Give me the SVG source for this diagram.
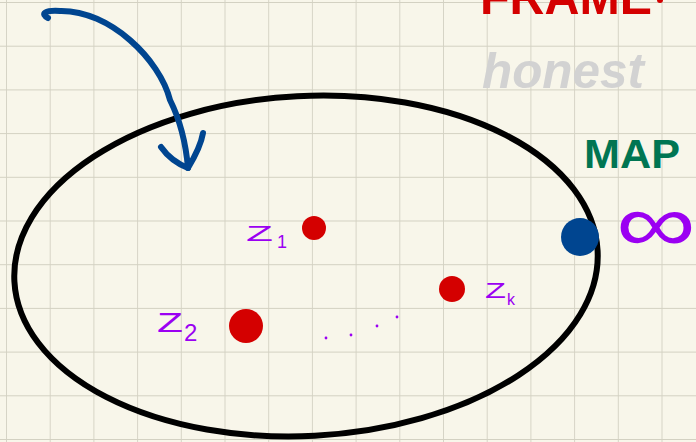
<svg xmlns="http://www.w3.org/2000/svg" width="696" height="442" viewBox="0 0 696 442">
<defs>
<pattern id="grid" x="6" y="2" width="43.7" height="43.7" patternUnits="userSpaceOnUse">
<path d="M0 0V43.7M0 0H43.7" fill="none" stroke="#d3d1c2" stroke-width="1.8"/>
</pattern>
<style>
.hand{font-family:"Liberation Sans","DejaVu Sans",sans-serif;}
.lbl{fill:#9b00f2;font-family:"Liberation Sans",sans-serif;}
.red{fill:#d40000;}
.dot{fill:#9b00f2;}
</style>
</defs>
<rect width="696" height="442" fill="#f8f6ea"/>
<rect width="696" height="442" fill="url(#grid)"/>
<g id="frame-label"><text x="480" y="14" class="hand" font-size="50" font-weight="bold" fill="#d40000" textLength="172" lengthAdjust="spacingAndGlyphs">FRAME</text><circle cx="660" cy="0" r="3" fill="#d40000"/></g>
<g id="honest-label"><text x="482" y="88" class="hand" font-size="50" font-style="italic" font-weight="bold" fill="#d2d2d2" textLength="162" lengthAdjust="spacingAndGlyphs">honest</text></g>
<g id="map-label"><text x="584" y="168" class="hand" font-size="40" font-weight="bold" fill="#007552" textLength="96" lengthAdjust="spacingAndGlyphs">MAP</text></g>
<g id="region"><ellipse cx="306" cy="266" rx="292" ry="170" transform="rotate(-3 306 266)" fill="none" stroke="#000" stroke-width="6"/></g>
<g id="connectors">
<path d="M48 18C40 14 45 10 60 11C110 10 160 60 170 100C180 120 186 145 188 168" fill="none" stroke="#004590" stroke-width="6" stroke-linecap="round"/>
<path d="M161 147C168 157 178 164 188 168C194 158 201 145 203 133" fill="none" stroke="#004590" stroke-width="6" stroke-linecap="round" stroke-linejoin="round"/>
</g>
<g id="infinity-point"><circle cx="580" cy="237" r="19" fill="#004590"/><text x="616" y="252" class="hand" font-size="84" fill="#9b00f2" textLength="80" lengthAdjust="spacingAndGlyphs">∞</text></g>
<g id="z1"><circle cx="314" cy="228" r="12" class="red"/><text x="246" y="241" class="lbl" font-size="22" textLength="27" lengthAdjust="spacingAndGlyphs">Z</text><text x="277" y="248" class="lbl" font-size="18">1</text></g>
<g id="z2"><circle cx="246" cy="326" r="17" class="red"/><text x="157" y="332" class="lbl" font-size="28" textLength="26" lengthAdjust="spacingAndGlyphs">Z</text><text x="184" y="341" class="lbl" font-size="24">2</text></g>
<g id="zk"><circle cx="452" cy="289" r="13" class="red"/><text x="485" y="298" class="lbl" font-size="22" textLength="21" lengthAdjust="spacingAndGlyphs">Z</text><text x="507" y="305" class="lbl" font-size="16">k</text></g>
<g id="ellipsis"><circle cx="326" cy="338" r="1.4" class="dot"/><circle cx="351" cy="335" r="1.4" class="dot"/><circle cx="377" cy="326" r="1.4" class="dot"/><circle cx="397" cy="317" r="1.4" class="dot"/></g>
</svg>
